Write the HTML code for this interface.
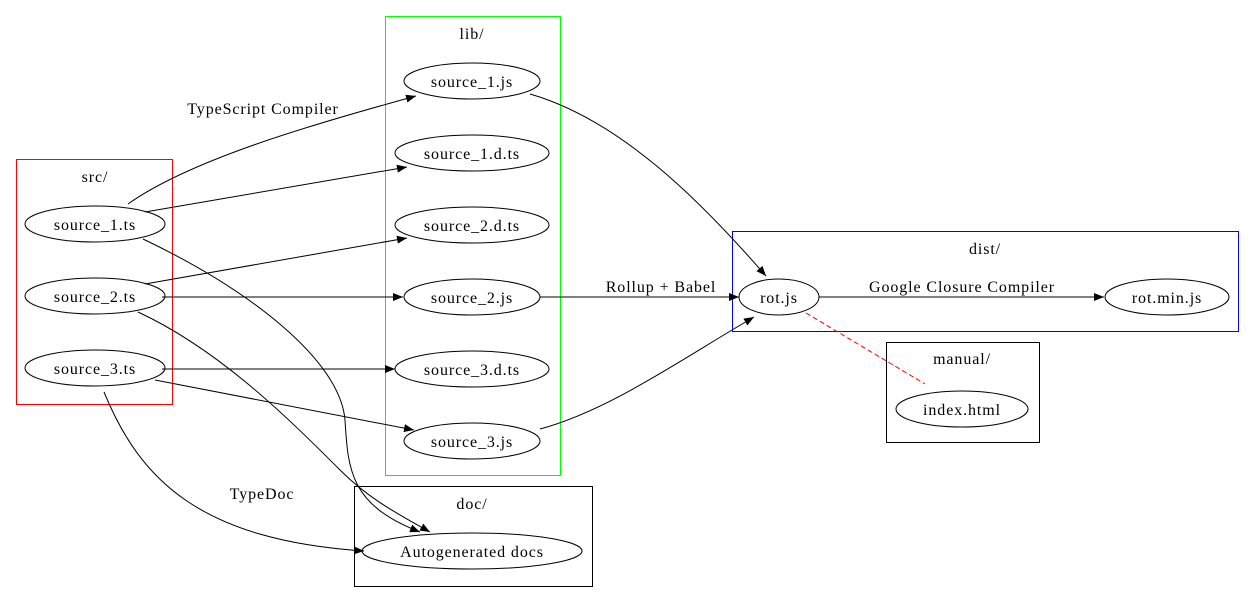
<!DOCTYPE html>
<html><head><meta charset="utf-8"><style>
html,body{margin:0;padding:0;background:#fff;}
svg{display:block;font-family:"Liberation Serif",serif;font-size:16px;letter-spacing:0.9px;}
</style></head><body>
<svg width="1255" height="603" viewBox="0 0 1255 603" xmlns="http://www.w3.org/2000/svg">
<defs>
<marker id="a" viewBox="0 0 10 10" refX="10" refY="5" markerWidth="10" markerHeight="10" markerUnits="userSpaceOnUse" orient="auto">
<path d="M0,1 L10,5 L0,9 z" fill="#000"/></marker>
</defs>
<g fill="none" stroke-width="1">
<rect x="16.5" y="159.5" width="156" height="245" stroke="#f00"/>
<rect x="385.5" y="16.5" width="175" height="459" stroke="#0f0"/>
<rect x="732.5" y="231.5" width="506" height="100" stroke="#00f"/>
<rect x="886.5" y="342.5" width="153" height="100" stroke="#000"/>
<rect x="354.5" y="486.5" width="238" height="100" stroke="#000"/>
</g>
<g text-anchor="middle" fill="#000">
<text x="95" y="182">src/</text>
<text x="472" y="39">lib/</text>
<text x="985" y="254">dist/</text>
<text x="962" y="364">manual/</text>
<text x="472" y="509">doc/</text>
</g>
<g fill="none" stroke="#000">
<ellipse cx="95" cy="224" rx="70" ry="18"/>
<ellipse cx="95" cy="296" rx="70" ry="18"/>
<ellipse cx="95" cy="368" rx="70" ry="18"/>
<ellipse cx="472" cy="81" rx="68" ry="18"/>
<ellipse cx="472" cy="153" rx="77" ry="18"/>
<ellipse cx="472" cy="225" rx="77" ry="18"/>
<ellipse cx="472" cy="297" rx="68" ry="18"/>
<ellipse cx="472" cy="369" rx="77" ry="18"/>
<ellipse cx="472" cy="441" rx="68" ry="18"/>
<ellipse cx="779" cy="297" rx="40" ry="18"/>
<ellipse cx="1167" cy="297" rx="62" ry="18"/>
<ellipse cx="962" cy="409" rx="66" ry="18"/>
<ellipse cx="472" cy="551" rx="110" ry="18"/>
</g>
<g text-anchor="middle" fill="#000">
<text x="95" y="230">source_1.ts</text>
<text x="95" y="302">source_2.ts</text>
<text x="95" y="374">source_3.ts</text>
<text x="472" y="87">source_1.js</text>
<text x="472" y="159">source_1.d.ts</text>
<text x="472" y="231">source_2.d.ts</text>
<text x="472" y="303">source_2.js</text>
<text x="472" y="375">source_3.d.ts</text>
<text x="472" y="447">source_3.js</text>
<text x="779" y="303">rot.js</text>
<text x="1167" y="303">rot.min.js</text>
<text x="962" y="415">index.html</text>
<text x="472" y="557">Autogenerated docs</text>
<text x="263" y="114">TypeScript Compiler</text>
<text x="262" y="499">TypeDoc</text>
<text x="661" y="292">Rollup + Babel</text>
<text x="962" y="292">Google Closure Compiler</text>
</g>
<g fill="none" stroke="#000" marker-end="url(#a)">
<path d="M128,204 C190,160 310,125 416,96"/>
<path d="M145,212 L407,167"/>
<path d="M145,284 L407,238"/>
<path d="M162,297 L403,297"/>
<path d="M162,369 L395,369"/>
<path d="M155,380 L414,430"/>
<path d="M143,239 C250,290 340,360 345,420 C348,470 350,505 420,532"/>
<path d="M138,312 C220,350 290,420 340,470 C370,500 400,515 430,532"/>
<path d="M104,392 C140,480 200,540 364,551"/>
<path d="M530,94 C620,120 700,200 766,276"/>
<path d="M540,297 L739,297"/>
<path d="M540,429 C610,410 680,360 754,317"/>
<path d="M819,297 L1104,297"/>
</g>
<path d="M806,313 L925,384" stroke="#f00" stroke-dasharray="5,3" fill="none"/>
</svg>
</body></html>
